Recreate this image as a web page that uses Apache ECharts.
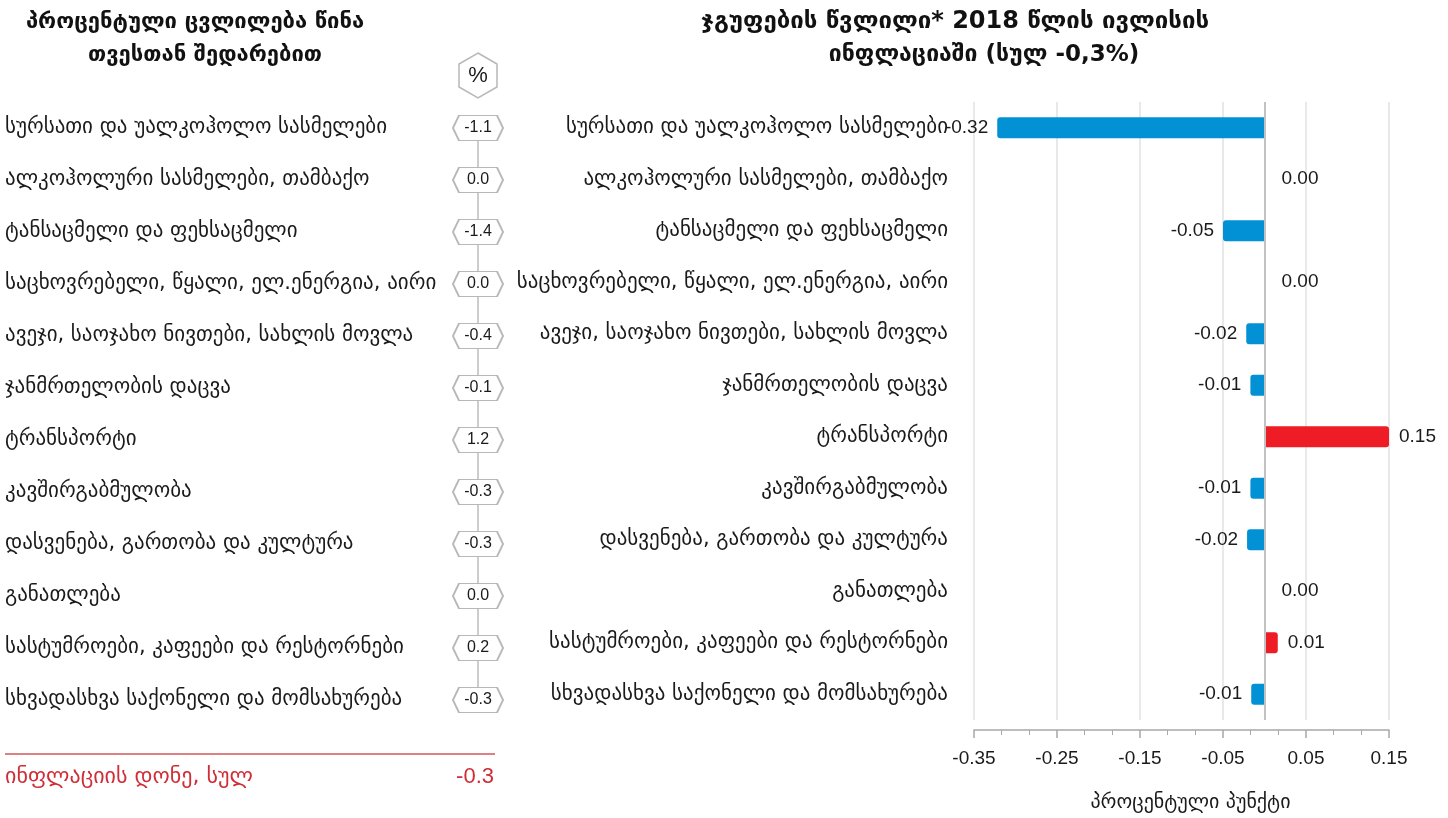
<!DOCTYPE html>
<html>
<head>
<meta charset="utf-8">
<script src="https://cdn.jsdelivr.net/npm/echarts@6/dist/echarts.min.js"></script>
<style>
html,body{margin:0;padding:0;background:#fff;}
#chart{width:1448px;height:818px;}
</style>
</head>
<body>
<div id="chart"></div>
<script>
// ---- data ----
const categories = [
  'სურსათი და უალკოჰოლო სასმელები',
  'ალკოჰოლური სასმელები, თამბაქო',
  'ტანსაცმელი და ფეხსაცმელი',
  'საცხოვრებელი, წყალი, ელ.ენერგია, აირი',
  'ავეჯი, საოჯახო ნივთები, სახლის მოვლა',
  'ჯანმრთელობის დაცვა',
  'ტრანსპორტი',
  'კავშირგაბმულობა',
  'დასვენება, გართობა და კულტურა',
  'განათლება',
  'სასტუმროები, კაფეები და რესტორნები',
  'სხვადასხვა საქონელი და მომსახურება'
];
// monthly percentage change (left panel)
const monthlyChange = [-1.1, 0.0, -1.4, 0.0, -0.4, -0.1, 1.2, -0.3, -0.3, 0.0, 0.2, -0.3];
// contribution to inflation, percentage points (right panel)
const contribution = [-0.322, 0.0, -0.050, 0.0, -0.022, -0.017, 0.150, -0.017, -0.021, 0.0, 0.016, -0.016];
const totalInflation = -0.3;
const xTicks = { min: -0.35, max: 0.15, interval: 0.1 };

const leftTitle = ['პროცენტული ცვლილება წინა', 'თვესთან შედარებით'];
const rightTitle = ['ჯგუფების წვლილი* 2018 წლის ივლისის', 'ინფლაციაში (სულ -0,3%)'];
const xAxisName = 'პროცენტული პუნქტი';
const totalLabel = 'ინფლაციის დონე, სულ';

// ---- style ----
const FONT = "'Liberation Sans', 'DejaVu Sans', Arial, sans-serif";
const GEO = "'DejaVu Sans', 'Liberation Sans', sans-serif";
const BLUE = '#0291d5';
const RED = '#ee1c25';
const TXT = '#1a1a1a';
const GRID_TOP = 102, GRID_H = 624;

function trunc2(v) {
  const t = Math.trunc(v * 100 + (v >= 0 ? 1e-9 : -1e-9)) / 100;
  return (t === 0 ? 0 : t).toFixed(2);
}

const chart = echarts.init(document.getElementById('chart'));

const barData = contribution.map(v => {
  const item = { value: v, itemStyle: { color: v >= 0 ? RED : BLUE,
    borderRadius: v >= 0 ? [0, 3, 3, 0] : [3, 0, 0, 3] } };
  item.label = v < 0 ? { position: 'left', distance: 9 }
             : (v === 0 ? { position: 'right', distance: 17 } : { position: 'right', distance: 10 });
  return item;
});

const hexData = monthlyChange.map((v, i) => [0, i, v]);

const option = {
  animation: false,
  backgroundColor: '#fff',
  textStyle: { fontFamily: FONT },
  grid: [
    { left: 453, width: 50, top: GRID_TOP, height: GRID_H },
    { left: 974, right: 59, top: GRID_TOP, height: GRID_H }
  ],
  xAxis: [
    { gridIndex: 0, type: 'category', data: ['%'], show: false },
    { gridIndex: 1, type: 'value', min: xTicks.min, max: xTicks.max, interval: xTicks.interval,
      offset: 10,
      axisLine: { show: true, lineStyle: { color: '#a8a8a8', width: 1.5 } },
      axisTick: { show: true, length: 8, lineStyle: { color: '#a8a8a8', width: 1.5 } },
      minorTick: { show: true, splitNumber: 3, length: 5, lineStyle: { color: '#a8a8a8' } },
      splitLine: { show: true, lineStyle: { color: '#e2e2e2', width: 1.5 } },
      axisLabel: { fontSize: 19, color: TXT, margin: 19, fontFamily: FONT,
        formatter: v => v.toFixed(2) },
      name: xAxisName, nameLocation: 'middle', nameGap: 63,
      nameTextStyle: { fontSize: 20, color: TXT, fontFamily: GEO, padding: [0, 0, 0, 18] } }
  ],
  yAxis: [
    { gridIndex: 0, type: 'category', data: categories, inverse: true,
      axisLine: { show: false }, axisTick: { show: false }, splitLine: { show: false },
      axisLabel: { align: 'left', margin: 448, fontSize: 21, color: TXT, fontFamily: GEO, padding: [5, 0, 0, 0] } },
    { gridIndex: 1, type: 'category', data: categories, inverse: true,
      axisLine: { show: false, onZero: false }, axisTick: { show: false }, splitLine: { show: false },
      axisLabel: { align: 'right', margin: 26, fontSize: 21, color: TXT, fontFamily: GEO, padding: [5, 0, 0, 0] } }
  ],
  series: [
    { type: 'line', xAxisIndex: 0, yAxisIndex: 0, data: hexData, symbol: 'none',
      lineStyle: { color: '#bcbcbc', width: 1.5 }, z: 1, silent: true },
    { type: 'scatter', xAxisIndex: 0, yAxisIndex: 0, data: hexData,
      symbol: 'path://M6,0 L44,0 L50,12 L44,24 L6,24 L0,12 Z', symbolSize: [50, 25],
      itemStyle: { color: '#fff', borderColor: '#b8b8b8', borderWidth: 1.5, opacity: 1 },
      label: { show: true, position: 'inside', fontSize: 16, color: TXT, fontFamily: FONT,
        formatter: p => p.value[2].toFixed(1) },
      z: 3 },
    { type: 'bar', xAxisIndex: 1, yAxisIndex: 1, data: barData, barWidth: 21,
      label: { show: true, fontSize: 19, color: TXT, fontFamily: FONT,
        formatter: p => trunc2(p.value) },
      markLine: { silent: true, symbol: 'none', label: { show: false },
        lineStyle: { color: '#c2c2c2', width: 2, type: 'solid' },
        data: [{ xAxis: 0 }] },
      z: 2 }
  ],
  graphic: [
    { type: 'text', x: 195, y: 22, style: { text: leftTitle[0], font: "bold 22px 'DejaVu Sans'", fill: '#111', textAlign: 'center', textVerticalAlign: 'middle' } },
    { type: 'text', x: 205, y: 55, style: { text: leftTitle[1], font: "bold 22px 'DejaVu Sans'", fill: '#111', textAlign: 'center', textVerticalAlign: 'middle' } },
    { type: 'text', x: 955, y: 22, style: { text: rightTitle[0], font: "bold 24px 'DejaVu Sans'", fill: '#111', textAlign: 'center', textVerticalAlign: 'middle' } },
    { type: 'text', x: 984, y: 55, style: { text: rightTitle[1], font: "bold 23px 'DejaVu Sans'", fill: '#111', textAlign: 'center', textVerticalAlign: 'middle' } },
    { type: 'polygon', shape: { points: [[478, 53], [497, 64], [497, 87], [478, 98], [459, 87], [459, 64]] },
      style: { fill: '#fff', stroke: '#b8b8b8', lineWidth: 1.5 } },
    { type: 'text', x: 478, y: 76, style: { text: '%', font: "22px 'Liberation Sans'", fill: TXT, textAlign: 'center', textVerticalAlign: 'middle' } },
    { type: 'line', shape: { x1: 5, y1: 754, x2: 495, y2: 754 }, style: { stroke: '#d2575c', lineWidth: 1.5 } },
    { type: 'text', x: 5, y: 777, style: { text: totalLabel, font: "22px 'DejaVu Sans'", fill: '#cf2e36', textAlign: 'left', textVerticalAlign: 'middle' } },
    { type: 'text', x: 494, y: 777, style: { text: totalInflation.toFixed(1), font: "22px 'Liberation Sans'", fill: '#cf2e36', textAlign: 'right', textVerticalAlign: 'middle' } }
  ]
};
chart.setOption(option);
</script>
</body>
</html>
